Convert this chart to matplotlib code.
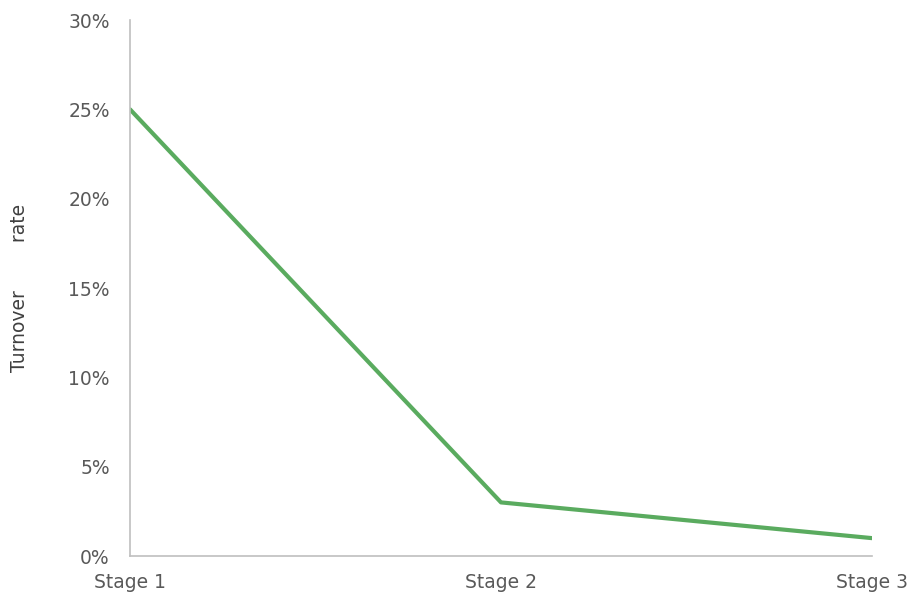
import matplotlib
matplotlib.use("Agg")
import matplotlib.pyplot as plt
from matplotlib.ticker import FuncFormatter

stages = ["Stage 1", "Stage 2", "Stage 3"]
turnover = [0.25, 0.03, 0.01]
yticks = [0.0, 0.05, 0.10, 0.15, 0.20, 0.25, 0.30]

plt.rcParams['font.family'] = ['DejaVu Sans']

fig = plt.figure(figsize=(9.12, 5.96), dpi=100)
ax = fig.add_axes([130/912, 40/596, 742/912, 536/596])

x = list(range(len(stages)))
ax.plot(x, turnover, color='#5aab5f', linewidth=3, solid_capstyle='round')

ax.set_xlim(0, len(stages) - 1)
ax.set_ylim(0, 0.30)
ax.set_xticks(x)
ax.set_xticklabels(stages)
ax.set_yticks(yticks)
ax.yaxis.set_major_formatter(FuncFormatter(lambda v, p: f"{v*100:.0f}%"))

for s in ['top', 'right']:
    ax.spines[s].set_visible(False)
for s in ['left', 'bottom']:
    ax.spines[s].set_color('#bfbfbf')
    ax.spines[s].set_linewidth(1.2)

ax.tick_params(axis='both', length=0, labelsize=13.5, colors='#595959')
ax.tick_params(axis='y', pad=14.5)
ax.tick_params(axis='x', pad=12)

fig.text(20/912, 1 - 288/596, "Turnover        rate", rotation=90,
         fontsize=13.5, color='#404040', ha='center', va='center')

fig.savefig("out.png", dpi=100)
